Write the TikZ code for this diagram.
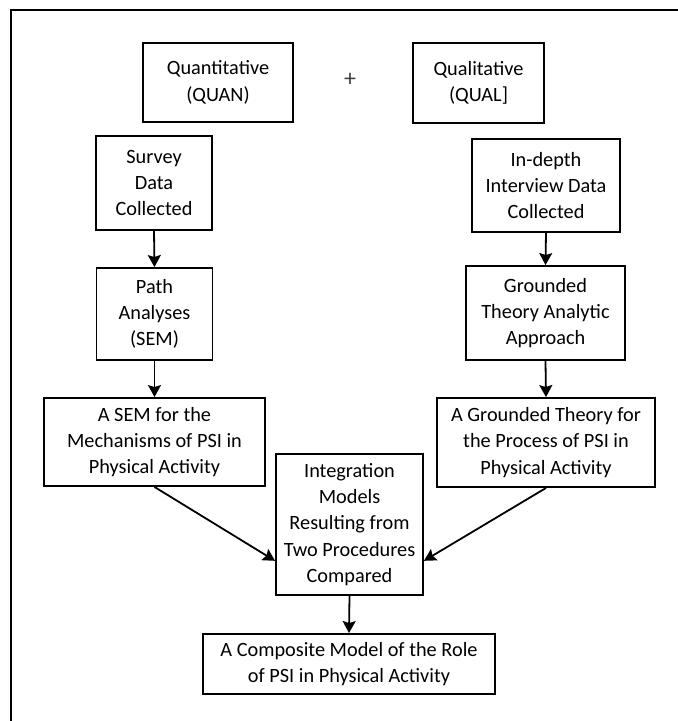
\documentclass[tikz,border=0pt]{standalone}
\usepackage{fontspec}
\setmainfont{Carlito}
\usetikzlibrary{arrows.meta,calc}

\begin{document}
\begin{tikzpicture}[x=1pt,y=-1pt,
  box/.style={draw=black, line width=1.9pt, rectangle, inner sep=0pt,
    align=center, font=\fontsize{20.3}{26.3}\selectfont},
  flow/.style={draw=black, line width=1.8pt,
    -{Stealth[length=12pt,width=13pt,inset=2pt]}},
  frameline/.style={draw=black, line width=1.8pt}]

  % canvas
  \useasboundingbox (0,0) rectangle (678,721);

  % frame (top and left edges)
  \coordinate (fbl) at (11,721);
  \coordinate (ftl) at (11,10);
  \coordinate (ftr) at (678,10);
  \draw[frameline] (fbl) -- (ftl) -- (ftr);

  % method headers
  \node[box, minimum width=150pt, minimum height=79pt] (quan) at (218,82.5)
    {Quantitative\\(QUAN)};
  \node[box, minimum width=131pt, minimum height=80pt] (qual) at (478.5,83)
    {Qualitative\\(QUAL]};
  \node[font=\fontsize{24}{24}\selectfont, text=black!75] (plus) at (350,80) {+};

  % data collection
  \node[box, minimum width=116pt, minimum height=94pt] (survey) at (154,183)
    {Survey\\Data\\Collected};
  \node[box, minimum width=148pt, minimum height=93pt] (indepth) at (546,185.5)
    {In-depth\\Interview Data\\Collected};

  % analysis
  \node[box, minimum width=116pt, minimum height=92pt] (path) at (154.5,314)
    {Path\\Analyses\\(SEM)};
  \node[box, minimum width=159pt, minimum height=94pt] (gta) at (545.5,313)
    {Grounded\\Theory Analytic\\Approach};

  % resulting models
  \node[box, minimum width=221pt, minimum height=88pt] (sem) at (154.5,442)
    {A SEM for the\\Mechanisms of PSI in\\Physical Activity};
  \node[box, minimum width=218pt, minimum height=89pt] (gt) at (546,442.5)
    {A Grounded Theory for\\the Process of PSI in\\Physical Activity};

  % integration and composite
  \node[box, minimum width=147pt, minimum height=141pt] (integ) at (349.5,524.5)
    {Integration\\Models\\Resulting from\\Two Procedures\\Compared};
  \node[box, minimum width=292pt, minimum height=60pt] (comp) at (349,664)
    {A Composite Model of the Role\\of PSI in Physical Activity};

  % connectors
  \draw[flow] (survey.south) -- (path.north);
  \draw[flow] (indepth.south) -- (gta.north);
  \draw[flow] (path.south) -- (sem.north);
  \draw[flow] (gta.south) -- (gt.north);
  \draw[flow] (sem.south) -- (integ.206);
  \draw[flow] (gt.south) -- (integ.-26);
  \draw[flow] (integ.south) -- (comp.north);
\end{tikzpicture}
\end{document}
